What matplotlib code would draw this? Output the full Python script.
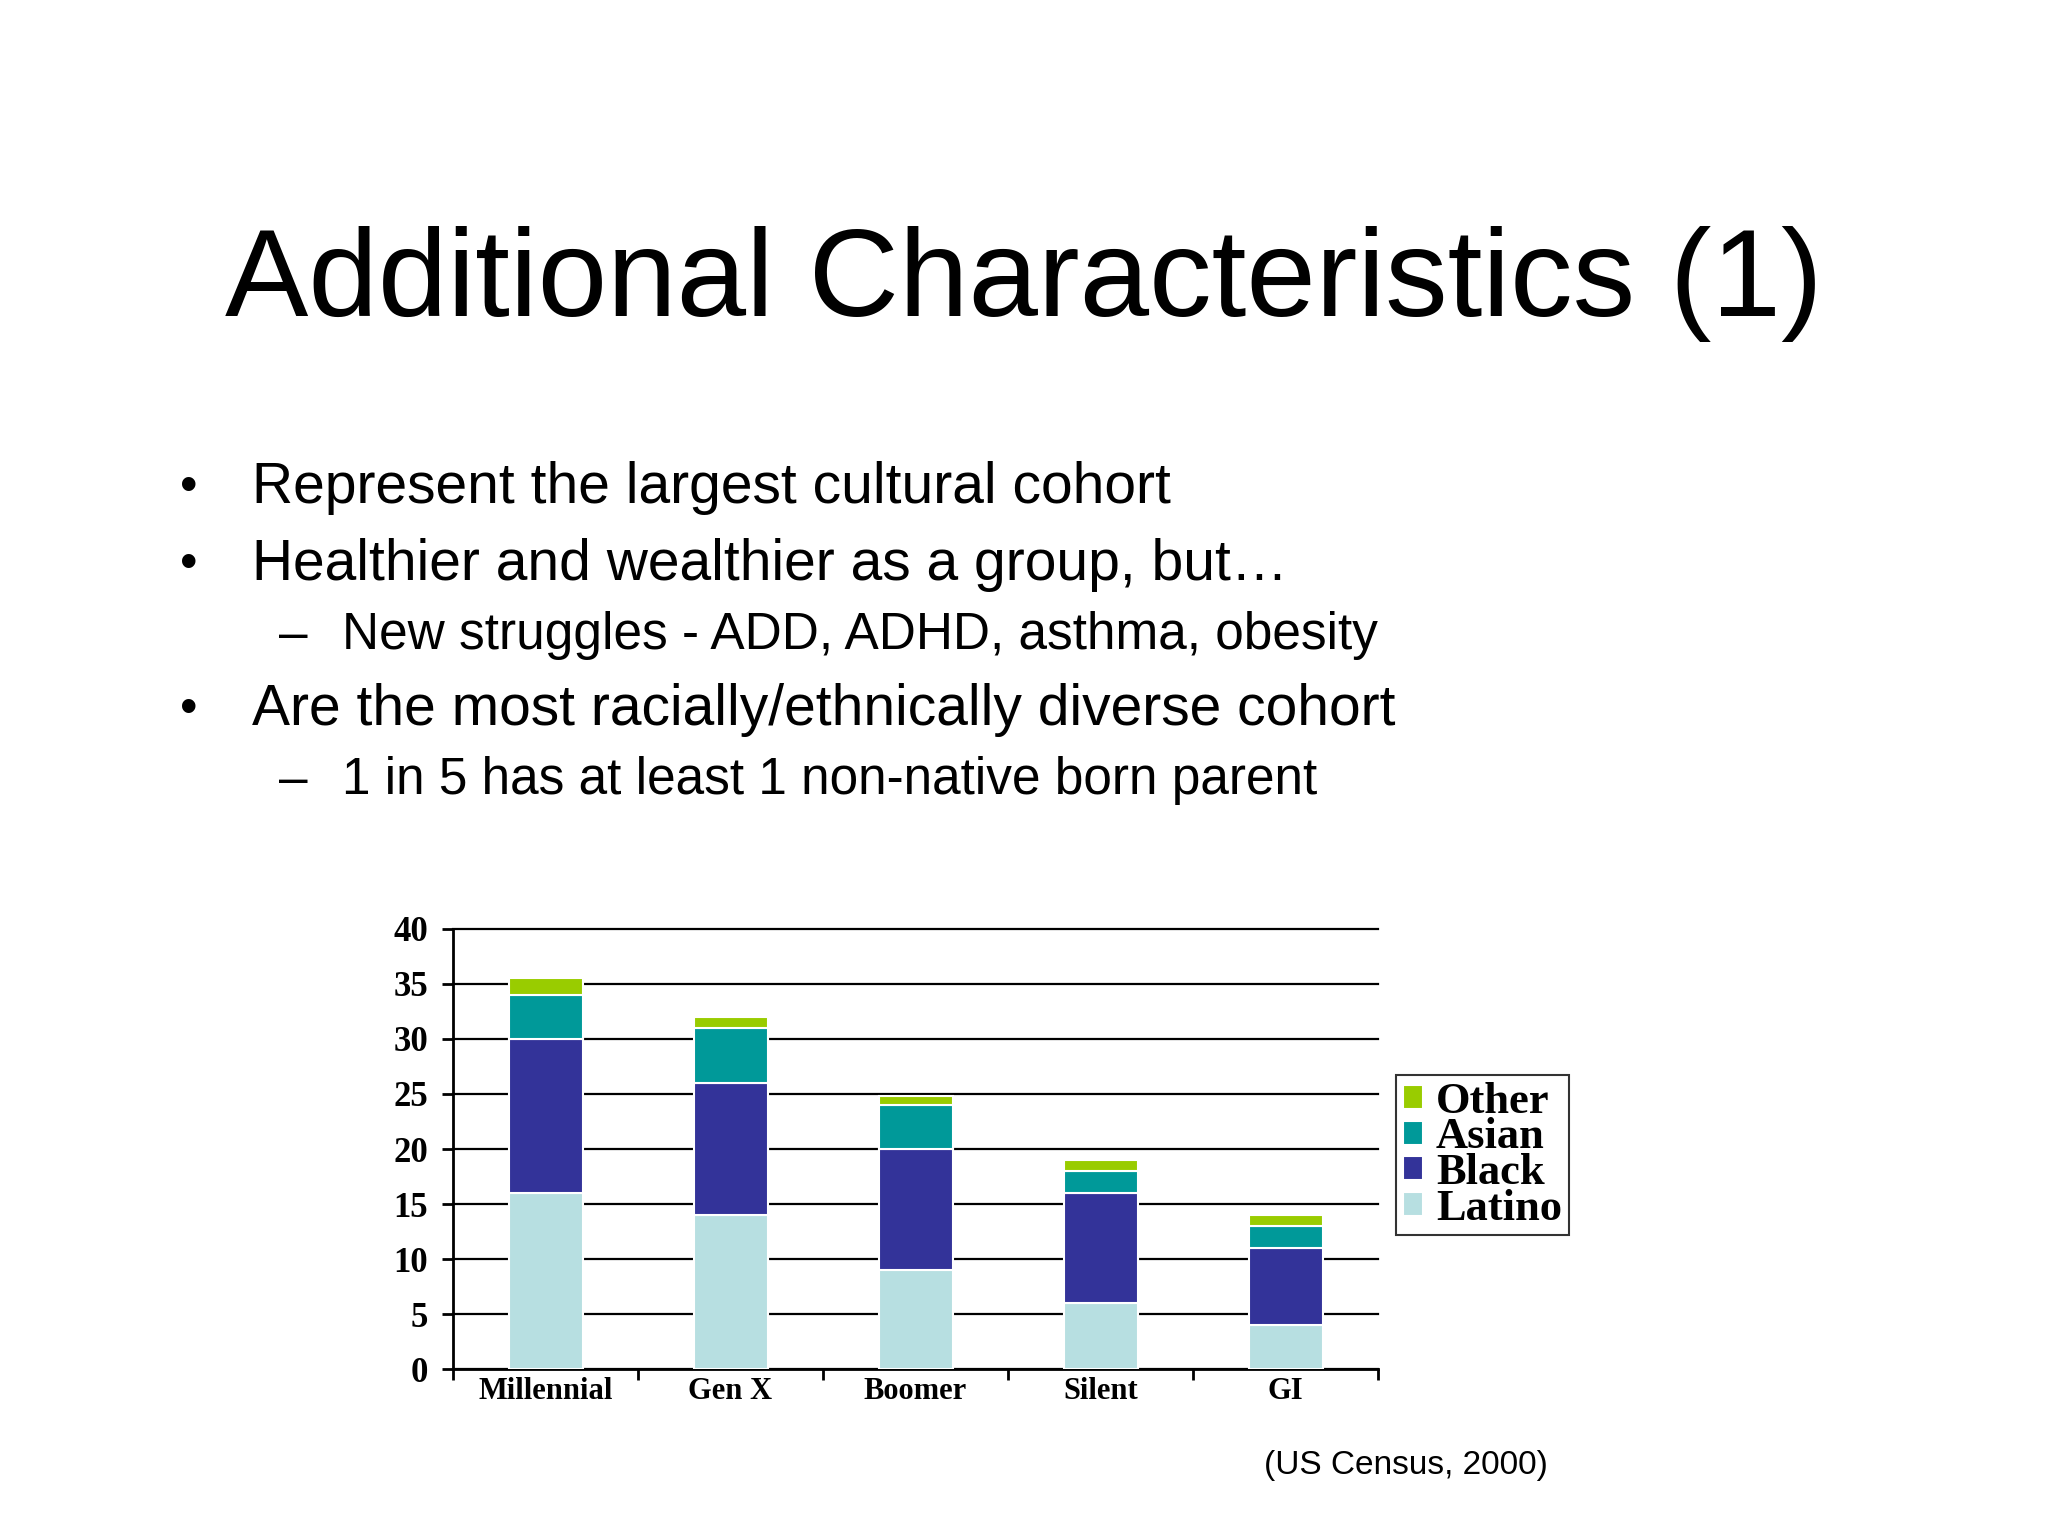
import matplotlib.pyplot as plt
import numpy as np

# Data (percent of cohort)
cohorts = ['Millennial', 'Gen X', 'Boomer', 'Silent', 'GI']
latino = [16, 14, 9, 6, 4]
black = [14, 12, 11, 10, 7]
asian = [4, 5, 4, 2, 2]
other = [1.5, 1, 0.8, 1, 1]
series_names = ['Latino', 'Black', 'Asian', 'Other']
series_colors = ['#b7dfe1', '#333399', '#009999', '#99cc00']

bullets = [
    (1, 'Represent the largest cultural cohort'),
    (1, 'Healthier and wealthier as a group, but\u2026'),
    (2, 'New struggles - ADD, ADHD, asthma, obesity'),
    (1, 'Are the most racially/ethnically diverse cohort'),
    (2, '1 in 5 has at least 1 non-native born parent'),
]

fig = plt.figure(figsize=(20.48, 15.36), dpi=100)
fig.patch.set_facecolor('white')

# Slide text
fig.text(0.5, 0.815, 'Additional Characteristics (1)', ha='center', va='center',
         fontsize=90, family='Liberation Sans', color='black')
line_y = [0.682, 0.632, 0.586, 0.538, 0.492]
for (level, txt), y in zip(bullets, line_y):
    if level == 1:
        fig.text(0.088, y, '\u2022', ha='left', va='center', fontsize=36, family='Liberation Sans')
        fig.text(0.123, y, txt, ha='left', va='center', fontsize=41, family='Liberation Sans')
    else:
        fig.text(0.136, y, '\u2013', ha='left', va='center', fontsize=37, family='Liberation Sans')
        fig.text(0.167, y, txt, ha='left', va='center', fontsize=37, family='Liberation Sans')
fig.text(0.617, 0.046, '(US Census, 2000)', ha='left', va='center', fontsize=24,
         family='Liberation Sans')

# Chart
ax = fig.add_axes([0.2212, 0.1087, 0.4517, 0.2865])
x = np.arange(len(cohorts))
bottom = np.zeros(len(cohorts))
handles = []
for name, vals, col in zip(series_names, [latino, black, asian, other], series_colors):
    b = ax.bar(x, vals, width=0.4, bottom=bottom, color=col, edgecolor='white',
               linewidth=1.5, label=name, zorder=3)
    handles.append(b)
    bottom += np.array(vals)

ax.set_xlim(-0.5, len(cohorts) - 0.5)
ax.set_ylim(0, 40)
ax.set_yticks(range(0, 41, 5))
ax.yaxis.grid(True, color='black', linewidth=1.6, zorder=0)
ax.set_axisbelow(True)
for gl in ax.get_ygridlines():
    gl.set_clip_on(False)
for s in ['top', 'right']:
    ax.spines[s].set_visible(False)
ax.spines['left'].set_linewidth(2)
ax.spines['bottom'].set_linewidth(2)
ax.set_xticks(x)
ax.set_xticklabels(cohorts, fontsize=22, family='Liberation Serif', fontweight='bold')
ax.tick_params(axis='x', length=0, pad=6)
ax.set_xticks(np.arange(-0.5, len(cohorts)), minor=True)
ax.tick_params(axis='x', which='minor', length=8, width=2, direction='out')
ax.tick_params(axis='y', length=8, width=2, direction='out', pad=10)
for lbl in ax.get_yticklabels():
    lbl.set_fontsize(25)
    lbl.set_family('Liberation Serif')
    lbl.set_fontweight('bold')

leg = fig.legend(handles[::-1], series_names[::-1], loc='upper left',
                 bbox_to_anchor=(0.6816, 0.300), frameon=True, fancybox=False,
                 prop={'family': 'Liberation Serif', 'weight': 'bold', 'size': 32},
                 handlelength=0.45, handleheight=0.45, handletextpad=0.3,
                 labelspacing=-0.1, borderpad=0.15, borderaxespad=0)
leg.get_frame().set_edgecolor('black')
leg.get_frame().set_linewidth(1.5)

plt.savefig('out.png', dpi=100, facecolor='white')
